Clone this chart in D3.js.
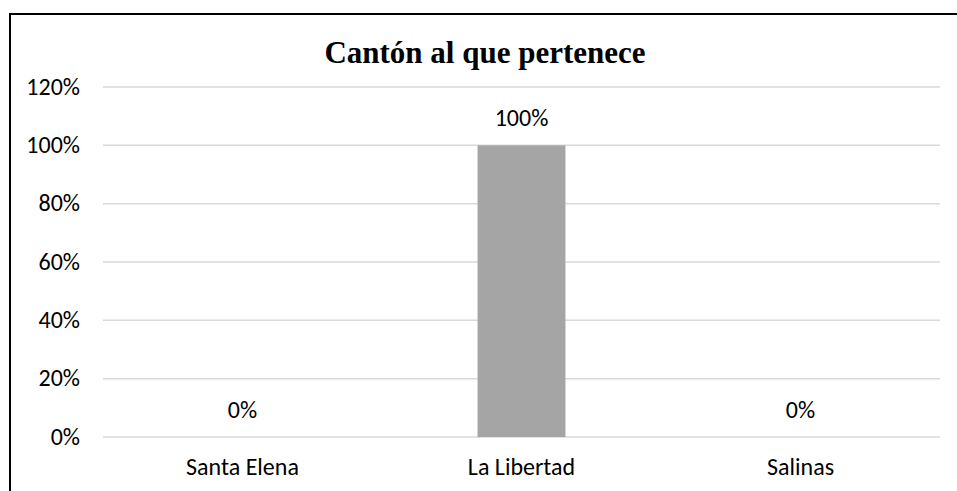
<!DOCTYPE html>
<html>
<head>
<meta charset="utf-8">
<script src="https://cdn.jsdelivr.net/npm/d3@7"></script>
<style>
  body { margin: 0; background: #fff; }
  svg { display: block; }
</style>
</head>
<body>
<figure id="chart" style="margin:0"></figure>
<script>
// data
const categories = ["Santa Elena", "La Libertad", "Salinas"];
const values = [0, 1, 0];
const yTicks = [0, 0.2, 0.4, 0.6, 0.8, 1.0, 1.2];
const title = "Cantón al que pertenece";

const width = 957, height = 491;
const margin = { top: 87, right: 17, bottom: 54, left: 103 };
const bodyFont = "Carlito, Calibri, Lato, sans-serif";

const svg = d3.select("figure#chart")
  .append("svg")
  .attr("width", width)
  .attr("height", height);

// outer frame
svg.append("rect")
  .attr("x", 10).attr("y", 14)
  .attr("width", width + 20).attr("height", height + 20)
  .attr("fill", "none")
  .attr("stroke", "#000")
  .attr("stroke-width", 2);

const x = d3.scaleBand()
  .domain(categories)
  .range([margin.left, width - margin.right])
  .padding(0);

const y = d3.scaleLinear()
  .domain([0, 1.2])
  .range([height - margin.bottom, margin.top]);

const fmt = d3.format(".0%");

// gridlines
svg.append("g")
  .selectAll("line")
  .data(yTicks)
  .join("line")
    .attr("x1", margin.left)
    .attr("x2", width - margin.right)
    .attr("y1", d => y(d))
    .attr("y2", d => y(d))
    .attr("stroke", "#d9d9d9")
    .attr("stroke-width", 1.5);

// y tick labels
svg.append("g")
    .attr("font-family", bodyFont)
    .attr("font-size", 24)
    .attr("text-anchor", "end")
    .attr("fill", "#000")
  .selectAll("text")
  .data(yTicks)
  .join("text")
    .attr("x", 80)
    .attr("y", d => y(d) + 7.5)
    .text(d => fmt(d));

// bars
const barW = x.bandwidth() * 0.315;
svg.append("g")
  .selectAll("rect")
  .data(values)
  .join("rect")
    .attr("x", (d, i) => x(categories[i]) + (x.bandwidth() - barW) / 2)
    .attr("y", d => y(d))
    .attr("width", barW)
    .attr("height", d => y(0) - y(d))
    .attr("fill", "#a5a5a5");

// value labels
svg.append("g")
    .attr("font-family", bodyFont)
    .attr("font-size", 24)
    .attr("text-anchor", "middle")
  .selectAll("text")
  .data(values)
  .join("text")
    .attr("x", (d, i) => x(categories[i]) + x.bandwidth() / 2)
    .attr("y", d => y(d) - 19)
    .text(d => fmt(d));

// category labels
svg.append("g")
    .attr("font-family", bodyFont)
    .attr("font-size", 24)
    .attr("text-anchor", "middle")
  .selectAll("text")
  .data(categories)
  .join("text")
    .attr("x", d => x(d) + x.bandwidth() / 2)
    .attr("y", 475)
    .text(d => d);

// title
svg.append("text")
  .attr("x", 485)
  .attr("y", 63)
  .attr("text-anchor", "middle")
  .attr("font-family", "'Liberation Serif', 'Times New Roman', serif")
  .attr("font-weight", "bold")
  .attr("font-size", 31)
  .text(title);
</script>
</body>
</html>
